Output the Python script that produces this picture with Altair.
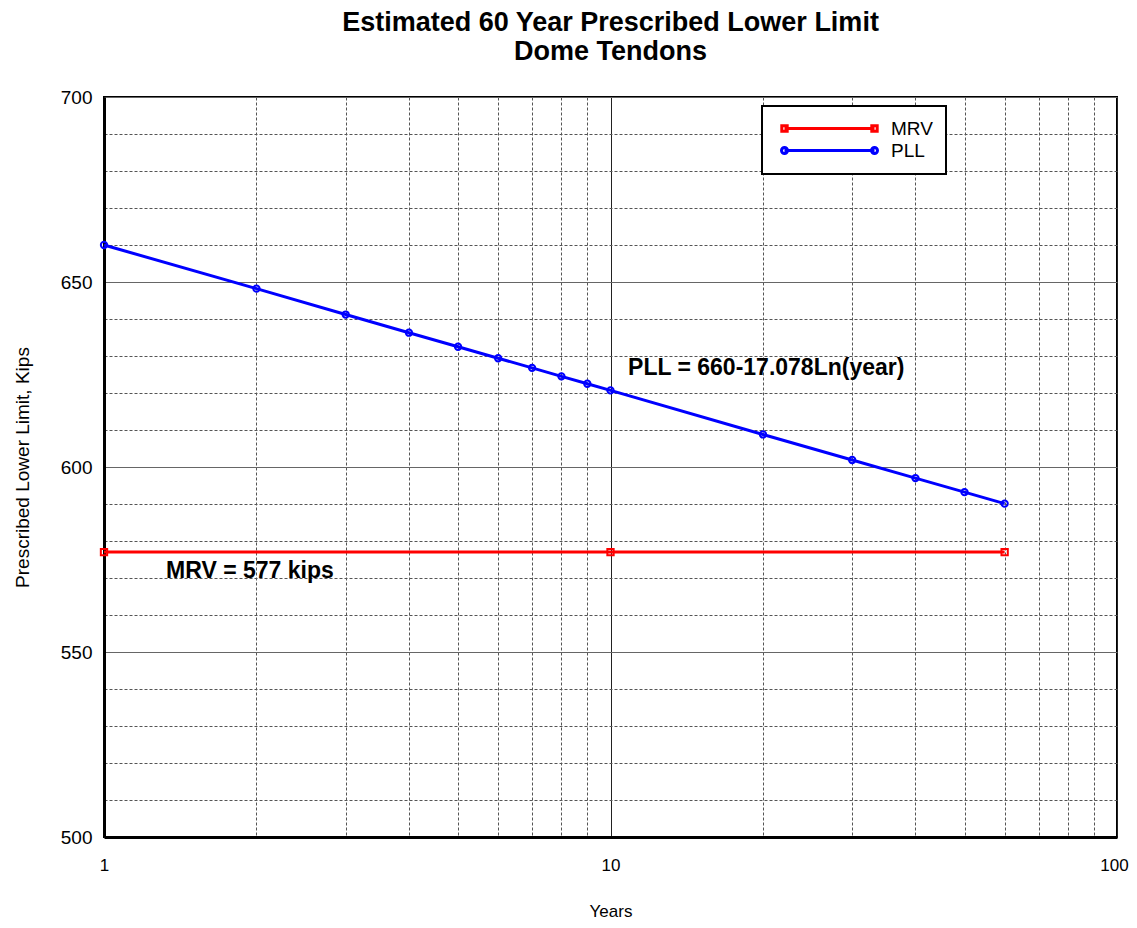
import altair as alt
import pandas as pd

# ---- data ----
pll_years = [1, 2, 3, 4, 5, 6, 7, 8, 9, 10, 20, 30, 40, 50, 60]
pll_values = [660.0, 648.2, 641.2, 636.3, 632.5, 629.4, 626.8, 624.5, 622.5, 620.7,
              608.8, 601.9, 597.0, 593.2, 590.1]
mrv_years = [1, 10, 60]
mrv_values = [577, 577, 577]

series_names = ["MRV", "PLL"]
series_colors = ["#ff0000", "#0000ff"]

x_ticks = [1, 2, 3, 4, 5, 6, 7, 8, 9, 10, 20, 30, 40, 50, 60, 70, 80, 90, 100]
y_ticks = list(range(500, 701, 10))

notes_text = ["PLL = 660-17.078Ln(year)", "MRV = 577 kips"]
notes_x = [10.83, 1.326]
notes_y = [626.8, 571.9]

# ---- tables ----
df = pd.DataFrame(
    {"Years": mrv_years + pll_years,
     "Value": mrv_values + pll_values,
     "Series": ["MRV"] * len(mrv_years) + ["PLL"] * len(pll_years)}
)
notes = pd.DataFrame({"text": notes_text, "x": notes_x, "y": notes_y})

FONT = "Liberation Sans"

x_scale = alt.Scale(type="log", domain=[1, 100], nice=False)
y_scale = alt.Scale(domain=[500, 700], nice=False, zero=False)

x_major = "datum.value == 1 || datum.value == 10 || datum.value == 100"
x_axis = alt.Axis(
    title="Years", values=x_ticks, grid=True, ticks=False, tickSize=0,
    labelExpr="(" + x_major + ") ? datum.label : ''",
    labelOverlap=False, labelFlush=False, labelFontSize=17, labelPadding=20,
    labelOffset=alt.condition("datum.value == 100", alt.value(-3), alt.value(0)),
    titleFontSize=17, titleFontWeight="normal", titlePadding=30,
    gridDash=alt.condition(x_major, alt.value([]), alt.value([3, 2])),
    gridColor=alt.condition(x_major, alt.value("#222222"), alt.value("#555555")),
    domainColor="black", domainWidth=3,
)
y_axis = alt.Axis(
    title="Prescribed Lower Limit, Kips", values=y_ticks, grid=True, ticks=False, tickSize=0,
    labelExpr="datum.value % 50 == 0 ? datum.label : ''",
    labelOverlap=False, labelFlush=False, labelFontSize=19, labelPadding=12,
    titleFontSize=19, titleFontWeight="normal", titlePadding=28,
    gridDash=alt.condition("datum.value % 50 == 0", alt.value([]), alt.value([3, 2])),
    gridColor=alt.condition("datum.value % 50 == 0", alt.value("#666666"), alt.value("#555555")),
    domainColor="black", domainWidth=3,
)

X = alt.X("Years:Q", scale=x_scale, axis=x_axis)
Y = alt.Y("Value:Q", scale=y_scale, axis=y_axis)

color_nolegend = alt.Color("Series:N", scale=alt.Scale(domain=series_names, range=series_colors),
                           legend=None)

base = alt.Chart(df)

lines = base.mark_line(strokeWidth=3).encode(
    x=X, y=Y, color=color_nolegend, detail="Series:N",
)

points = base.mark_point(filled=False, size=40, strokeWidth=2, opacity=1).encode(
    x=X, y=Y, color=color_nolegend,
    shape=alt.Shape("Series:N", scale=alt.Scale(domain=series_names, range=["square", "circle"]),
                    legend=None),
)

# legend symbols: a line with a marker at each end (unit = 3px for size 36)
mrv_symbol = ("M-15,0L15,0M-15.9,-0.9L-14.1,-0.9L-14.1,0.9L-15.9,0.9Z"
              "M14.1,-0.9L15.9,-0.9L15.9,0.9L14.1,0.9Z")
pll_symbol = ("M-15,0L15,0M-16,0A1,1 0 1,0 -14,0A1,1 0 1,0 -16,0Z"
              "M14,0A1,1 0 1,0 16,0A1,1 0 1,0 14,0Z")

leg = alt.Legend(
    title=None, orient="none", legendX=658, legendY=9,
    fillColor="white", strokeColor="black", padding=13,
    symbolSize=36, symbolStrokeWidth=3, symbolOffset=45, symbolOpacity=1,
    labelFontSize=19, labelOffset=52, rowPadding=2, labelFont=FONT, labelColor="black",
)

legend_layer = base.transform_filter("false").mark_point(
    filled=False, strokeWidth=3, opacity=1
).encode(
    x=X, y=Y,
    color=alt.Color("Series:N", scale=alt.Scale(domain=series_names, range=series_colors),
                    legend=leg),
    shape=alt.Shape("Series:N", scale=alt.Scale(domain=series_names, range=[mrv_symbol, pll_symbol]),
                    legend=leg),
)

texts = alt.Chart(notes).mark_text(
    align="left", baseline="middle", fontSize=23, fontWeight="bold", font=FONT, color="black"
).encode(
    x=alt.X("x:Q", scale=x_scale, axis=x_axis),
    y=alt.Y("y:Q", scale=y_scale, axis=y_axis),
    text="text:N",
)

chart = alt.layer(lines, points, texts, legend_layer).resolve_scale(
    color="independent", shape="independent"
).properties(
    width=1013, height=740,
    title=alt.Title(["Estimated 60 Year Prescribed Lower Limit", "Dome Tendons"],
                    fontSize=27, font=FONT, fontWeight="bold", anchor="middle",
                    frame="group", offset=22, lineHeight=29, color="black"),
    autosize=alt.AutoSizeParams(type="none"),
    padding={"left": 96, "top": 89, "right": 12, "bottom": 83},
).configure(
    font=FONT,
).configure_view(
    stroke="black", strokeWidth=2,
).configure_axis(
    labelFont=FONT, titleFont=FONT, labelColor="black", titleColor="black",
).configure_legend(
    strokeWidth=2,
)

chart.save("out.html", embed_options={"renderer": "svg", "actions": False})
